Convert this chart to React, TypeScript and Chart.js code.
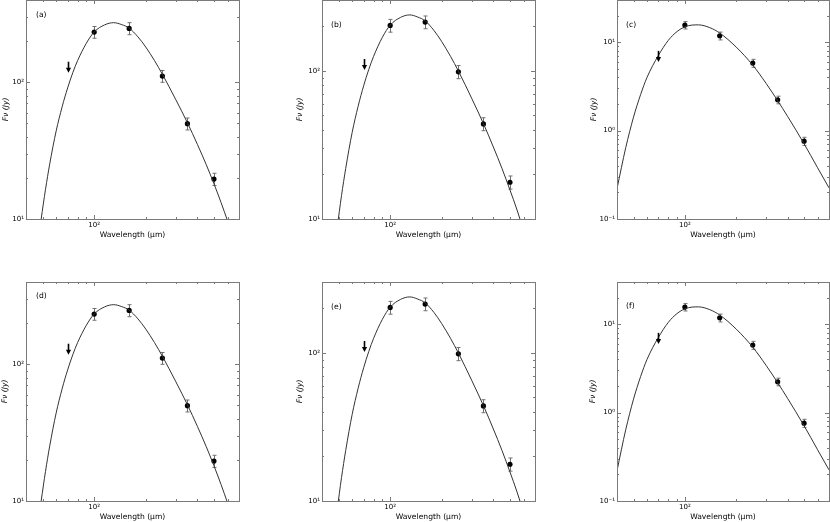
import React, { useEffect, useRef } from 'react';
import { Chart, registerables } from 'chart.js';

Chart.register(...registerables);

// ---------- data ----------
const detWavelengths = [100, 160, 250, 350, 500];
const limitWavelengths = [70];

const fluxA = [233, 248, 111, 49.8, 19.6];
const errA = [23, 25, 11, 5, 2];
const limitA = [130];
const modelWavelengthsAB = [46, 49, 52, 55, 60, 65, 70, 75, 80, 90, 100, 115, 130, 145, 160, 180, 200, 225, 250, 300, 350, 400, 450, 500, 550, 600, 650];
const modelA = [5.4, 9.9, 16.5, 25.2, 44.1, 66.2, 91, 117.5, 144, 193, 233.5, 263, 273, 264, 249, 215, 181, 144, 114.5, 74.3, 50.6, 35.2, 25.1, 18.1, 13.2, 9.7, 7.2];

const fluxB = [202, 213, 98.4, 43.8, 17.7];
const errB = [20, 21, 10, 4.4, 1.8];
const limitB = [111];
const modelB = [4.7, 8.6, 14.4, 21.9, 38.4, 57.6, 79.2, 102, 125, 168, 203, 229, 238, 230, 217, 187, 157, 125, 99.6, 64.6, 44, 30.6, 21.8, 15.7, 11.5, 8.4, 6.3];

const fluxC = [15.6, 11.8, 5.8, 2.23, 0.76];
const errC = [1.5, 1.2, 0.6, 0.22, 0.08];
const limitC = [7.0];
const modelWavelengthsC = [40, 45, 50, 55, 60, 70, 80, 90, 100, 110, 120, 140, 160, 200, 250, 300, 350, 400, 500, 600, 700];
const modelC = [0.22, 0.64, 1.42, 2.55, 4.0, 7.1, 10.5, 13.2, 14.9, 15.6, 15.7, 14.6, 12.7, 8.8, 5.5, 3.4, 2.18, 1.45, 0.71, 0.38, 0.225];

const xRange = [40, 700];
const xTicks = [100];
const xTickLabels = ['10\u00B2'];
const yRangeA = [10, 400];
const yRangeB = [10, 300];
const yRangeC = [0.1, 30];
const yTicksAB = [10, 100];
const yTickLabelsAB = ['10\u00B9', '10\u00B2'];
const yTicksC = [0.1, 1, 10];
const yTickLabelsC = ['10\u207B\u00B9', '10\u2070', '10\u00B9'];

const panelLabels = ['(a)', '(b)', '(c)', '(d)', '(e)', '(f)'];
const xTitle = 'Wavelength (\u03BCm)';
const yTitle = 'F\u03BD (Jy)';

// ---------- layout ----------
const COLS = [26, 322, 617];
const COLW = [213, 213, 212];
const ROWS = [0, 282];
const PH = 219;
const L = 30, R = 10, T = 10, B = 40;
const FONT = 'DejaVu Sans';

type Series = {
  flux: number[]; err: number[]; limit: number[];
  modelX: number[]; modelY: number[];
  yRange: number[]; yTicks: number[]; yTickLabels: string[];
};

const seriesA: Series = { flux: fluxA, err: errA, limit: limitA, modelX: modelWavelengthsAB, modelY: modelA, yRange: yRangeA, yTicks: yTicksAB, yTickLabels: yTickLabelsAB };
const seriesB: Series = { flux: fluxB, err: errB, limit: limitB, modelX: modelWavelengthsAB, modelY: modelB, yRange: yRangeB, yTicks: yTicksAB, yTickLabels: yTickLabelsAB };
const seriesC: Series = { flux: fluxC, err: errC, limit: limitC, modelX: modelWavelengthsC, modelY: modelC, yRange: yRangeC, yTicks: yTicksC, yTickLabels: yTickLabelsC };

const panels = [
  { s: seriesA, col: 0, row: 0, ldx: 10, ldy: 15, ytp: 5.0 },
  { s: seriesB, col: 1, row: 0, ldx: 9, ldy: 25, ytp: 3.4 },
  { s: seriesC, col: 2, row: 0, ldx: 9, ldy: 25, ytp: 2.2 },
  { s: seriesA, col: 0, row: 1, ldx: 10, ldy: 14, ytp: 4.6 },
  { s: seriesB, col: 1, row: 1, ldx: 9, ldy: 25, ytp: 3.4 },
  { s: seriesC, col: 2, row: 1, ldx: 9, ldy: 24, ytp: 1.8 },
];

function logTicks(min: number, max: number) {
  const out: { v: number; major: boolean }[] = [];
  for (let k = Math.floor(Math.log10(min)) - 1; k <= Math.ceil(Math.log10(max)); k++) {
    for (let m = 1; m <= 9; m++) {
      const v = m * Math.pow(10, k);
      if (v >= min * 0.9999 && v <= max * 1.0001) out.push({ v, major: m === 1 });
    }
  }
  return out;
}

function Panel({ idx }: { idx: number }) {
  const ref = useRef<HTMLCanvasElement | null>(null);
  const p = panels[idx];
  const s = p.s;
  const PW = COLW[p.col];
  const left = COLS[p.col] - L;
  const top = ROWS[p.row] - T;
  const w = L + PW + R;
  const h = T + PH + B;

  useEffect(() => {
    const canvas = ref.current;
    if (!canvas) return;
    const decor = {
      id: 'sedDecor',
      beforeDatasetsDraw(chart: any) {
        const { ctx, scales } = chart;
        const x = scales.x, y = scales.y;
        ctx.save();
        ctx.strokeStyle = '#707070';
        ctx.lineWidth = 1;
        detWavelengths.forEach((wl, i) => {
          const px = Math.round(x.getPixelForValue(wl)) + 0.5;
          const yt = y.getPixelForValue(s.flux[i] + s.err[i]);
          const yb = y.getPixelForValue(s.flux[i] - s.err[i]);
          ctx.beginPath();
          ctx.moveTo(px, yt); ctx.lineTo(px, yb);
          ctx.moveTo(px - 2, yt); ctx.lineTo(px + 2, yt);
          ctx.moveTo(px - 2, yb); ctx.lineTo(px + 2, yb);
          ctx.stroke();
        });
        ctx.restore();
      },
      afterDatasetsDraw(chart: any) {
        const { ctx, scales, chartArea } = chart;
        const x = scales.x, y = scales.y;
        ctx.save();
        // upper-limit arrows
        ctx.fillStyle = '#000';
        ctx.strokeStyle = '#000';
        limitWavelengths.forEach((wl, i) => {
          const px = Math.round(x.getPixelForValue(wl)) + 0.5;
          const py = y.getPixelForValue(s.limit[i]);
          ctx.lineWidth = 1.6;
          ctx.beginPath();
          ctx.moveTo(px, py - 5); ctx.lineTo(px, py + 1.5);
          ctx.stroke();
          ctx.beginPath();
          ctx.moveTo(px - 2.6, py + 1); ctx.lineTo(px + 2.6, py + 1); ctx.lineTo(px, py + 6);
          ctx.closePath();
          ctx.fill();
        });
        // frame
        const { left: l, right: r, top: t, bottom: b } = chartArea;
        ctx.strokeStyle = '#7a7a7a';
        ctx.lineWidth = 1;
        ctx.strokeRect(l + 0.5, t + 0.5, r - l, b - t);
        // inward ticks
        ctx.beginPath();
        logTicks(xRange[0], xRange[1]).forEach(({ v, major }) => {
          const px = Math.round(x.getPixelForValue(v)) + 0.5;
          const len = major ? 4 : 2;
          ctx.moveTo(px, b); ctx.lineTo(px, b - len);
          ctx.moveTo(px, t); ctx.lineTo(px, t + len);
        });
        logTicks(s.yRange[0], s.yRange[1]).forEach(({ v, major }) => {
          const py = Math.round(y.getPixelForValue(v)) + 0.5;
          const len = major ? 4 : 2;
          ctx.moveTo(l, py); ctx.lineTo(l + len, py);
          ctx.moveTo(r, py); ctx.lineTo(r - len, py);
        });
        ctx.stroke();
        // panel label
        ctx.fillStyle = '#000';
        ctx.font = `7.6px "${FONT}"`;
        ctx.textAlign = 'left';
        ctx.textBaseline = 'middle';
        ctx.fillText(panelLabels[idx], l + p.ldx, t + p.ldy);
        ctx.restore();
      },
    };

    const chart = new Chart(canvas, {
      type: 'line',
      data: {
        datasets: [
          {
            type: 'line',
            data: s.modelX.map((xv, i) => ({ x: xv, y: s.modelY[i] })),
            borderColor: '#333333',
            borderWidth: 1,
            pointRadius: 0,
            fill: false,
            cubicInterpolationMode: 'monotone',
          },
          {
            type: 'line',
            data: detWavelengths.map((xv, i) => ({ x: xv, y: s.flux[i] })),
            showLine: false,
            pointRadius: 2.6,
            pointBackgroundColor: '#000',
            pointBorderColor: '#000',
            pointBorderWidth: 0,
          },
        ],
      } as any,
      options: {
        animation: false,
        responsive: false,
        maintainAspectRatio: false,
        events: [],
        layout: { padding: { left: 0, right: R, top: T, bottom: 0 } },
        plugins: { legend: { display: false }, tooltip: { enabled: false }, title: { display: false } },
        scales: {
          x: {
            type: 'logarithmic',
            position: 'bottom',
            min: xRange[0],
            max: xRange[1],
            grid: { display: false, drawTicks: false },
            border: { display: false },
            afterBuildTicks: (sc: any) => { sc.ticks = xTicks.map((v) => ({ value: v })); },
            afterFit: (sc: any) => { sc.height = B; },
            ticks: {
              autoSkip: false,
              maxRotation: 0,
              padding: 2,
              color: '#000',
              font: { family: FONT, size: 7 },
              callback: (_v: any, i: number) => xTickLabels[i],
            },
            title: {
              display: true,
              text: xTitle,
              color: '#000',
              font: { family: FONT, size: 7.6 },
              padding: { top: 0, bottom: 19.4 },
            },
          },
          y: {
            type: 'logarithmic',
            position: 'left',
            min: s.yRange[0],
            max: s.yRange[1],
            grid: { display: false, drawTicks: false },
            border: { display: false },
            afterBuildTicks: (sc: any) => { sc.ticks = s.yTicks.map((v) => ({ value: v })); },
            afterFit: (sc: any) => { sc.width = L; },
            ticks: {
              autoSkip: false,
              padding: 2,
              color: '#000',
              font: { family: FONT, size: 7 },
              callback: (_v: any, i: number) => s.yTickLabels[i],
            },
            title: {
              display: true,
              text: yTitle,
              color: '#000',
              font: { family: FONT, size: 7.6, style: 'italic' },
              padding: { top: p.ytp, bottom: 0 },
            },
          },
        },
      } as any,
      plugins: [decor],
    });
    return () => chart.destroy();
  }, [idx]);

  return (
    <canvas
      ref={ref}
      width={w}
      height={h}
      style={{ position: 'absolute', left, top, width: w, height: h, display: 'block' }}
    />
  );
}

export default function App() {
  return (
    <div
      style={{
        position: 'fixed',
        left: 0,
        top: 0,
        width: 830,
        height: 522,
        overflow: 'hidden',
        background: '#ffffff',
      }}
    >
      {panels.map((_, i) => (
        <Panel key={i} idx={i} />
      ))}
    </div>
  );
}
